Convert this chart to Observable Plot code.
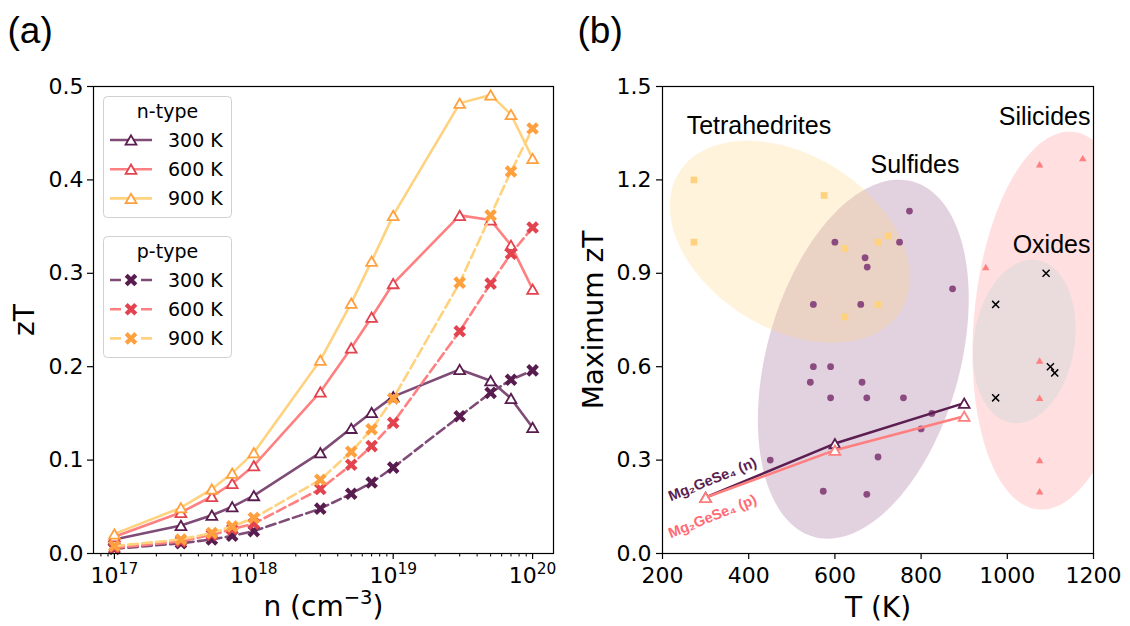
<!DOCTYPE html>
<html><head><meta charset="utf-8">
<script src="https://cdn.jsdelivr.net/npm/d3@7"></script>
<script src="https://cdn.jsdelivr.net/npm/@observablehq/plot@0.6"></script>
<style>
html,body{margin:0;padding:0;background:#fff;}
#fig{position:relative;width:1130px;height:626px;overflow:hidden;font-family:"DejaVu Sans",sans-serif;}
#fig > svg{position:absolute;top:0;}
</style></head><body><div id="fig"></div>
<script>
// ---------------- Panel (a) data ----------------
const carrierConc = [1e17,3e17,5e17,7e17,1e18,3e18,5e18,7e18,1e19,3e19,5e19,7e19,1e20];
const nType300K = [0.015,0.030,0.041,0.050,0.062,0.108,0.134,0.151,0.168,0.197,0.185,0.166,0.135];
const nType600K = [0.018,0.044,0.061,0.075,0.094,0.173,0.220,0.253,0.289,0.362,0.357,0.330,0.283];
const nType900K = [0.021,0.049,0.069,0.086,0.108,0.207,0.268,0.313,0.362,0.482,0.491,0.470,0.423];
const pType300K = [0.005,0.011,0.015,0.019,0.024,0.048,0.064,0.076,0.092,0.147,0.172,0.186,0.196];
const pType600K = [0.006,0.013,0.020,0.026,0.032,0.069,0.095,0.115,0.140,0.238,0.289,0.321,0.349];
const pType900K = [0.008,0.015,0.022,0.029,0.038,0.079,0.109,0.133,0.166,0.290,0.362,0.409,0.455];
const tempLabels = ["300 K","600 K","900 K"];
const yTicksA = [0,0.1,0.2,0.3,0.4,0.5];
const xTicksA = [1e17,1e18,1e19,1e20];

// ---------------- Panel (b) data ----------------
const tetraT  = [273,273,575,623,700,723,700,623];
const tetraZT = [1.20,1.00,1.15,0.98,1.00,1.02,0.80,0.76];
const sulfT  = [773,600,750,670,675,873,550,660,550,590,543,663,590,674,759,825,800,450,700,573,674];
const sulfZT = [1.10,1.00,1.00,0.95,0.92,0.85,0.80,0.80,0.60,0.60,0.55,0.55,0.50,0.50,0.50,0.45,0.40,0.30,0.31,0.20,0.19];
const siliT  = [1075,1175,950,1075,1075,1075,1075];
const siliZT = [1.25,1.27,0.92,0.62,0.50,0.30,0.20];
const oxT  = [1090,973,1100,1110,973];
const oxZT = [0.90,0.80,0.60,0.58,0.50];
const mgT  = [300,600,900];
const mgN  = [0.180,0.353,0.483];
const mgP  = [0.180,0.332,0.441];
const xTicksB = [200,400,600,800,1000,1200];
const yTicksB = [0,0.3,0.6,0.9,1.2,1.5];
const groupLabels = ["Tetrahedrites","Sulfides","Silicides","Oxides"];
const mgLabels = ["Mg\u2082GeSe\u2084 (n)","Mg\u2082GeSe\u2084 (p)"];

// ---------------- styles ----------------
const C = {
  line300:"#7f4c77", mark300:"#581c4f",
  line600:"#ff8080", mark600:"#e2434f",
  line900:"#ffd27f", mark900:"#ffa03f",
  tetra:"#ffd27f", sulf:"#8b4a80", sili:"#ff7f80", ox:"#000000",
  mgN:"#5b1e51", mgP:"#ff7f7f", mgPText:"#ff6a74"
};
const triUp = {draw(ctx,size){const r=Math.sqrt(size/Math.PI);ctx.moveTo(0,-r*0.95);ctx.lineTo(r*1.1,r*0.95);ctx.lineTo(-r*1.1,r*0.95);ctx.closePath();}};
const xFilled = {draw(ctx,size){const r=Math.sqrt(size/Math.PI);const L=1.45*r,t=0.45*r;
  const pts=[[-t,-L],[t,-L],[t,-t],[L,-t],[L,t],[t,t],[t,L],[-t,L],[-t,t],[-L,t],[-L,-t],[-t,-t]];
  const c=Math.SQRT1_2; pts.forEach(([x,y],i)=>{const X=(x-y)*c,Y=(x+y)*c; i?ctx.lineTo(X,Y):ctx.moveTo(X,Y);}); ctx.closePath();}};

const PW = 565, H = 626, MT = 86, MB = 73;
const fig = document.getElementById("fig");

function superscriptify(svg){
  svg.querySelectorAll("text").forEach(t=>{
    const s = t.textContent; if(!s.includes("^")) return;
    const fs = parseFloat(getComputedStyle(t).fontSize) || 22;
    const parts = s.split("^"); t.textContent = "";
    let shift = 0; const up = fs*0.42, sub = fs*0.7;
    parts.forEach((p,i)=>{ if(!p) return;
      const ts = document.createElementNS("http://www.w3.org/2000/svg","tspan");
      if(i%2){ ts.setAttribute("dy", -up); ts.setAttribute("font-size", sub); shift = up; }
      else if(shift){ ts.setAttribute("dy", shift); shift = 0; }
      ts.textContent = p; t.appendChild(ts); });
  });
}

// ---------------- Panel (a) ----------------
const seriesA = [
  {vals:nType300K, line:C.line300, mark:C.mark300, p:false},
  {vals:nType600K, line:C.line600, mark:C.mark600, p:false},
  {vals:nType900K, line:C.line900, mark:C.mark900, p:false},
  {vals:pType300K, line:C.line300, mark:C.mark300, p:true},
  {vals:pType600K, line:C.line600, mark:C.mark600, p:true},
  {vals:pType900K, line:C.line900, mark:C.mark900, p:true}
];
const minorA = [];
for (let d=16; d<=20; d++) for (let k=2;k<=9;k++){const v=k*10**d; if(v>10**16.85 && v<10**20.15) minorA.push(v);}
const marksA = [];
seriesA.forEach(s=>{
  const rows = carrierConc.map((n,i)=>({n, zT:s.vals[i]}));
  marksA.push(Plot.line(rows,{x:"n",y:"zT",stroke:s.line,strokeWidth:2.6,strokeDasharray:s.p?"9.5,4.5":null}));
  if(!s.p) marksA.push(Plot.dot(rows,{x:"n",y:"zT",symbol:triUp,r:4.9,stroke:s.mark,strokeWidth:1.8,fill:"white"}));
  else marksA.push(Plot.dot(rows,{x:"n",y:"zT",symbol:xFilled,r:4.7,fill:s.mark,stroke:"none"}));
});
const chartA = Plot.plot({
  width:PW, height:H, marginLeft:93, marginRight:12, marginTop:MT, marginBottom:MB,
  style:{fontFamily:"DejaVu Sans", fontSize:"22px", color:"#000", background:"transparent", overflow:"visible"},
  x:{type:"log", domain:[10**16.85, 10**20.15]},
  y:{domain:[0,0.5]},
  marks:[
    ...marksA,
    Plot.axisX({ticks:minorA, tickSize:3.5, tickFormat:()=>"", label:null, strokeWidth:1}),
    Plot.axisX({ticks:xTicksA, tickSize:6, tickPadding:8, fontSize:22, label:null, strokeWidth:1.2,
      tickFormat:d=>"10^"+Math.round(Math.log10(d))}),
    Plot.axisY({ticks:yTicksA, tickSize:6, tickPadding:4, fontSize:22, label:null, strokeWidth:1.2, tickFormat:d3.format(".1f")}),
    Plot.frame({stroke:"#000", strokeWidth:1.2}),
    Plot.text(["zT"],{frameAnchor:"left", dx:-60, rotate:-90, lineAnchor:"bottom", textAnchor:"middle", fontSize:28}),
    Plot.text(["n (cm^\u22123^)"],{frameAnchor:"bottom", dy:62, lineAnchor:"bottom", textAnchor:"middle", fontSize:28}),
    Plot.text(["(a)"],{frameAnchor:"top-left", dx:-86, dy:-44, lineAnchor:"bottom", textAnchor:"start", fontSize:37, fontFamily:"Liberation Sans"})
  ]
});
chartA.style.left = "0px";
fig.appendChild(chartA);
superscriptify(chartA);

// legend for panel (a)
(function(){
  const g = d3.select(chartA).append("g").attr("font-family","DejaVu Sans").attr("font-size",19).attr("text-anchor","start");
  const boxes = [{y:96.5, title:"n-type", p:false},{y:236.5, title:"p-type", p:true}];
  const cols = [[C.line300,C.mark300],[C.line600,C.mark600],[C.line900,C.mark900]];
  boxes.forEach(b=>{
    g.append("rect").attr("x",103.5).attr("y",b.y).attr("width",128).attr("height",121).attr("rx",4)
      .attr("fill","white").attr("fill-opacity",0.8).attr("stroke","#d0d0d0").attr("stroke-width",1);
    g.append("text").attr("x",167.5).attr("y",b.y+21.5).attr("text-anchor","middle").text(b.title);
    cols.forEach((c,i)=>{
      const cy = b.y + 43.5 + i*29.2;
      g.append("line").attr("x1",110).attr("x2",152).attr("y1",cy).attr("y2",cy).attr("stroke",c[0])
        .attr("stroke-width",2.6).attr("stroke-dasharray", b.p ? "11,20,11" : null);
      const path = d3.path();
      if(!b.p){ triUp.draw(path, Math.PI*4.9*4.9);
        g.append("path").attr("d",path.toString()).attr("transform",`translate(131,${cy})`).attr("fill","white").attr("stroke",c[1]).attr("stroke-width",1.8);
      } else { xFilled.draw(path, Math.PI*4.7*4.7);
        g.append("path").attr("d",path.toString()).attr("transform",`translate(131,${cy})`).attr("fill",c[1]);
      }
      g.append("text").attr("x",168).attr("y",cy+7).attr("text-anchor","start").text(tempLabels[i]);
    });
  });
})();

// ---------------- Panel (b) ----------------
const MLb = 97, MRb = 37;
const kx = (PW-MLb-MRb)/(1200-200), ky = (H-MT-MB)/1.5;  // px per data unit
const ellipseShapes = [
  {cx:665.9, cy:0.624, a:184.4, b:96.6, angle:74.4, fill:C.sulf, op:0.25},
  {cx:495.4, cy:1.0015, a:130.7, b:86.7, angle:-32, fill:C.tetra, op:0.27},
  {cx:1111.8, cy:0.748, a:189.6, b:81.5, angle:84.8, fill:C.sili, op:0.25},
  {cx:1039.4, cy:0.681, a:82.3, b:50.3, angle:81.1, fill:"#d9d9d9", op:0.55}
];
function ellipsePoints(s){
  const th = s.angle*Math.PI/180, pts=[];
  for(let i=0;i<180;i++){const t=2*Math.PI*i/180, u=s.a*Math.cos(t), v=s.b*Math.sin(t);
    pts.push({T:s.cx+(u*Math.cos(th)-v*Math.sin(th))/kx, zT:s.cy+(u*Math.sin(th)+v*Math.cos(th))/ky});}
  return pts;
}
const pts = (T,Z)=>T.map((t,i)=>({T:t, zT:Z[i]}));
const annStart = [{label:groupLabels[0],T:256,zT:1.346},{label:groupLabels[1],T:682.6,zT:1.2215}];
const annEnd = [{label:groupLabels[2],T:1193,zT:1.377},{label:groupLabels[3],T:1193,zT:0.9646}];
const chartB = Plot.plot({
  width:PW, height:H, marginLeft:MLb, marginRight:MRb, marginTop:MT, marginBottom:MB,
  style:{fontFamily:"DejaVu Sans", fontSize:"22px", color:"#000", background:"transparent", overflow:"visible"},
  x:{domain:[200,1200]},
  y:{domain:[0,1.5]},
  marks:[
    ...ellipseShapes.map(s=>Plot.line(ellipsePoints(s),{x:"T",y:"zT",curve:"linear-closed",fill:s.fill,fillOpacity:s.op,stroke:"none",clip:true})),
    Plot.dot(pts(tetraT,tetraZT),{x:"T",y:"zT",symbol:"square",r:3.8,fill:C.tetra,stroke:"none"}),
    Plot.dot(pts(sulfT,sulfZT),{x:"T",y:"zT",symbol:"circle",r:3.4,fill:C.sulf,stroke:"none"}),
    Plot.dot(pts(siliT,siliZT),{x:"T",y:"zT",symbol:triUp,r:3.4,fill:C.sili,stroke:"none"}),
    Plot.dot(pts(oxT,oxZT),{x:"T",y:"zT",symbol:"times",r:3.3,stroke:C.ox,strokeWidth:1.5}),
    Plot.line(pts(mgT,mgN),{x:"T",y:"zT",stroke:C.mgN,strokeWidth:2.6}),
    Plot.dot(pts(mgT,mgN),{x:"T",y:"zT",symbol:triUp,r:4.9,stroke:C.mgN,strokeWidth:1.8,fill:"white"}),
    Plot.line(pts(mgT,mgP),{x:"T",y:"zT",stroke:C.mgP,strokeWidth:2.6}),
    Plot.dot(pts(mgT,mgP),{x:"T",y:"zT",symbol:triUp,r:4.9,stroke:C.mgP,strokeWidth:1.8,fill:"white"}),
    Plot.text(annStart,{x:"T",y:"zT",text:"label",textAnchor:"start",lineAnchor:"bottom",fontSize:25,fontFamily:"Liberation Sans"}),
    Plot.text(annEnd,{x:"T",y:"zT",text:"label",textAnchor:"end",lineAnchor:"bottom",fontSize:25,fontFamily:"Liberation Sans"}),
    Plot.text([{label:mgLabels[0],T:316,zT:0.238}],{x:"T",y:"zT",text:"label",rotate:-22,fontSize:14.5,fontWeight:"bold",fontFamily:"Liberation Sans",fill:C.mgN}),
    Plot.text([{label:mgLabels[1],T:316,zT:0.119}],{x:"T",y:"zT",text:"label",rotate:-22,fontSize:14.5,fontWeight:"bold",fontFamily:"Liberation Sans",fill:C.mgPText}),
    Plot.axisX({ticks:xTicksB, tickSize:6, tickPadding:8, fontSize:22, label:null, strokeWidth:1.2, tickFormat:d=>String(d)}),
    Plot.axisY({ticks:yTicksB, tickSize:6, tickPadding:5, fontSize:22, label:null, strokeWidth:1.2, tickFormat:d3.format(".1f")}),
    Plot.frame({stroke:"#000", strokeWidth:1.2}),
    Plot.text(["Maximum zT"],{frameAnchor:"left", dx:-60, rotate:-90, lineAnchor:"bottom", textAnchor:"middle", fontSize:28}),
    Plot.text(["T (K)"],{frameAnchor:"bottom", dy:63, lineAnchor:"bottom", textAnchor:"middle", fontSize:28}),
    Plot.text(["(b)"],{frameAnchor:"top-left", dx:-85, dy:-44, lineAnchor:"bottom", textAnchor:"start", fontSize:37, fontFamily:"Liberation Sans"})
  ]
});
chartB.style.left = PW + "px";
fig.appendChild(chartB);
</script>
</body></html>
